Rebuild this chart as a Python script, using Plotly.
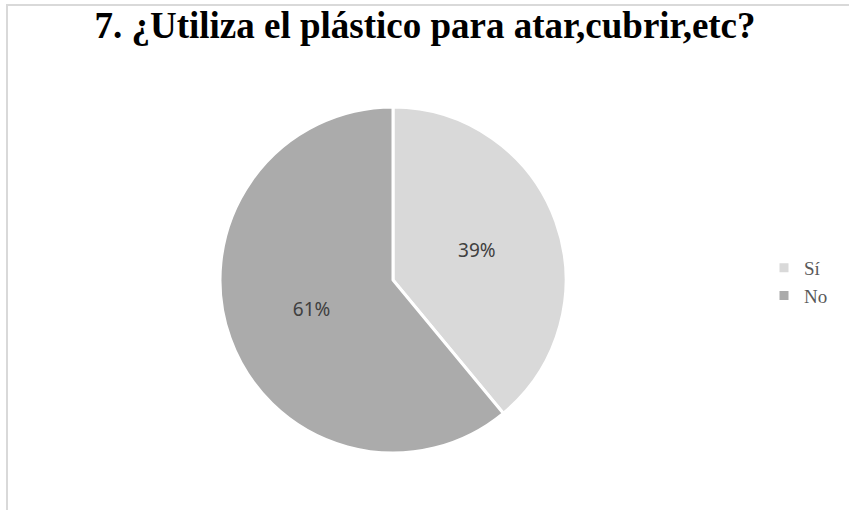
import plotly.graph_objects as go

# Survey responses
labels = ["Sí", "No"]
values = [39, 61]
colors = ["#d9d9d9", "#ababab"]

W, H = 849, 510
cx, cy, r = 393, 280, 173

fig = go.Figure(
    go.Pie(
        labels=labels,
        values=values,
        sort=False,
        direction="clockwise",
        rotation=0,
        marker=dict(colors=colors, line=dict(color="white", width=3)),
        texttemplate="%{value}%",
        textposition="inside",
        insidetextorientation="horizontal",
        textfont=dict(family="Noto Sans", size=19, color="#404040"),
        hoverinfo="label+percent",
        domain=dict(
            x=[(cx - r) / W, (cx + r) / W],
            y=[(H - cy - r) / H, (H - cy + r) / H],
        ),
    )
)

fig.update_layout(
    width=W,
    height=H,
    margin=dict(l=0, r=0, t=0, b=0),
    paper_bgcolor="white",
    title=dict(
        text="<b>7. ¿Utiliza el plástico para atar,cubrir,etc?</b>",
        x=425 / W,
        xanchor="center",
        y=1 - 25 / H,
        yanchor="middle",
        font=dict(family="Liberation Serif", size=37, color="black"),
    ),
    legend=dict(
        x=764 / W,
        y=1 - 249 / H,
        xanchor="left",
        yanchor="top",
        font=dict(family="Liberation Serif", size=19, color="#595959"),
        itemwidth=30,
        tracegroupgap=0,
    ),
    shapes=[
        dict(
            type="rect",
            xref="paper",
            yref="paper",
            x0=7 / W,
            x1=1.05,
            y0=-0.05,
            y1=1 - 5 / H,
            line=dict(color="#d9d9d9", width=2),
            fillcolor="rgba(0,0,0,0)",
        )
    ],
)

fig.write_html("out.html")
